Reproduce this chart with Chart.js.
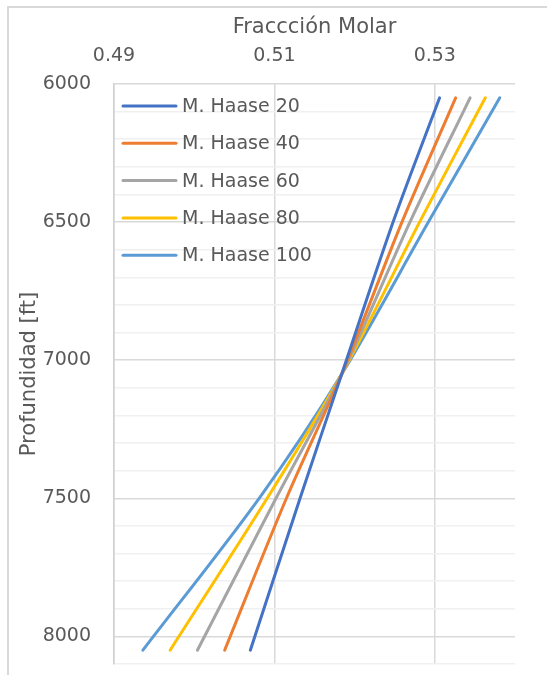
<!DOCTYPE html>
<html>
<head>
<meta charset="utf-8">
<script src="https://cdn.jsdelivr.net/npm/chart.js@4.4.1/dist/chart.umd.min.js"></script>
<style>
  html, body { margin: 0; padding: 0; background: #fff; overflow: hidden; }
  .frame { position: absolute; left: 7px; top: 6px; width: 600px; height: 720px; border: 2px solid #d9d9d9; box-sizing: border-box; }
  .wrap { position: absolute; left: 0; top: 0; width: 547px; height: 675px; }
</style>
</head>
<body>
<div class="frame"></div>
<div class="wrap"><canvas id="c" width="547" height="675"></canvas></div>
<script>
// depth samples (ft)
const depths = [6050, 6500, 7050, 7500, 8050]

// molar fraction per series
const haase20 = [0.5306, 0.5248, 0.5184, 0.5132, 0.5070]
const haase40 = [0.5326, 0.5259, 0.5184, 0.5115, 0.5038]
const haase60 = [0.5344, 0.5269, 0.5184, 0.5102, 0.5004]
const haase80 = [0.5363, 0.5281, 0.5184, 0.5091, 0.4970]
const haase100 = [0.5381, 0.5292, 0.5184, 0.5081, 0.4936]

const seriesNames = ['M. Haase 20', 'M. Haase 40', 'M. Haase 60', 'M. Haase 80', 'M. Haase 100']
const colors = ['#4472C4', '#ED7D31', '#A5A5A5', '#FFC000', '#5B9BD5']

const xTicks = [0.49, 0.51, 0.53]
const yLabelTicks = [6000, 6500, 7000, 7500, 8000]
const yGridTicks = [6000, 6100, 6200, 6300, 6400, 6500, 6600, 6700, 6800, 6900, 7000,
  7100, 7200, 7300, 7400, 7500, 7600, 7700, 7800, 7900, 8000, 8100]

const FONT = '"DejaVu Sans", sans-serif'
const TEXT = '#595959'

const datasets = [haase20, haase40, haase60, haase80, haase100].map((vals, i) => ({
  label: seriesNames[i],
  data: vals.map((v, j) => ({ x: v, y: depths[j] })),
  borderColor: colors[i],
  backgroundColor: colors[i],
  borderWidth: 3,
  borderCapStyle: 'round',
  borderJoinStyle: 'round',
  pointRadius: 0,
  showLine: true,
  fill: false,
  tension: 0.3
}))

// legend drawn inside the plot, transparent, like the original
const insideLegend = {
  id: 'insideLegend',
  afterDatasetsDraw(chart) {
    const { ctx, chartArea } = chart
    ctx.save()
    ctx.font = '19px ' + FONT
    ctx.textBaseline = 'middle'
    chart.data.datasets.forEach((ds, i) => {
      const y = chartArea.top + 22 + i * 37.3
      const x0 = chartArea.left + 9
      ctx.strokeStyle = ds.borderColor
      ctx.lineWidth = 3
      ctx.lineCap = 'round'
      ctx.beginPath()
      ctx.moveTo(x0, y)
      ctx.lineTo(x0 + 53, y)
      ctx.stroke()
      ctx.fillStyle = TEXT
      ctx.fillText(ds.label, x0 + 59, y + 1)
    })
    ctx.restore()
  }
}

new Chart(document.getElementById('c'), {
  type: 'scatter',
  data: { datasets },
  plugins: [insideLegend],
  options: {
    responsive: false,
    animation: false,
    layout: { padding: { left: 0, top: 0, right: 32, bottom: 11 } },
    plugins: { legend: { display: false }, tooltip: { enabled: false } },
    scales: {
      x: {
        type: 'linear',
        position: 'top',
        min: 0.49,
        max: 0.54,
        afterBuildTicks: s => { s.ticks = xTicks.map(v => ({ value: v })) },
        afterFit: s => { s.height = 84; s.paddingLeft = 0; s.paddingRight = 0 },
        ticks: {
          color: TEXT,
          font: { family: FONT, size: 19 },
          padding: 17,
          maxRotation: 0,
          callback: v => v.toFixed(2)
        },
        grid: { color: '#d9d9d9', lineWidth: 1.5, drawTicks: false },
        border: { display: false },
        title: {
          display: true,
          text: 'Fraccción Molar',
          color: TEXT,
          font: { family: FONT, size: 21 },
          padding: { top: 15, bottom: 0 }
        }
      },
      y: {
        type: 'linear',
        reverse: true,
        min: 6000,
        max: 8100,
        afterBuildTicks: s => { s.ticks = yGridTicks.map(v => ({ value: v })) },
        afterFit: s => { s.width = 114; s.paddingTop = 0; s.paddingBottom = 0 },
        ticks: {
          color: TEXT,
          font: { family: FONT, size: 19 },
          padding: 23,
          autoSkip: false,
          callback: v => yLabelTicks.includes(v) ? String(v) : ''
        },
        grid: {
          drawTicks: false,
          lineWidth: 1.5,
          color: c => yLabelTicks.includes(c.tick && c.tick.value) ? '#d9d9d9' : '#f0f0f0'
        },
        border: { display: true, color: '#d0d0d0', width: 1.5 },
        title: {
          display: true,
          text: 'Profundidad [ft]',
          color: TEXT,
          font: { family: FONT, size: 21 },
          padding: { top: 17, bottom: 0 }
        }
      }
    }
  }
})
</script>
</body>
</html>
